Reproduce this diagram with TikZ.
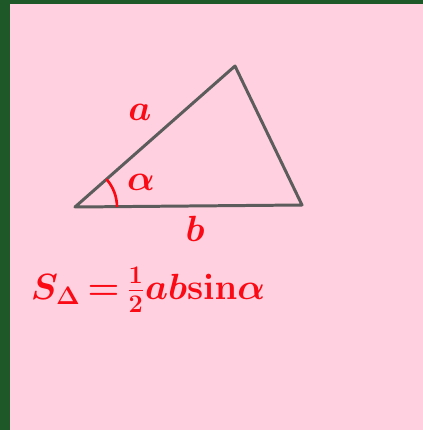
\documentclass[tikz,border=0pt]{standalone}
\usetikzlibrary{positioning, calc}
\definecolor{rozovyi}{RGB}{255,208,223}
\definecolor{zelenyi}{RGB}{30,88,40}
\definecolor{seryi}{RGB}{92,92,92}
\definecolor{krasnyi}{RGB}{250,10,20}

\begin{document}
\begin{tikzpicture}[x=0.02cm, y=-0.02cm, font=\fontsize{20}{24}\selectfont\boldmath]
                \fill[zelenyi] (0,0) rectangle (423,430);
                \fill[rozovyi] (10,4) rectangle (423,430);
                \coordinate (A) at (75,207);
                \coordinate (B) at (235,66);
                \coordinate (C) at (302,205);
                \draw[line width=1.7pt, seryi, line join=round] (A) -- (B) -- (C) -- cycle;
                \draw[line width=1.5pt, krasnyi] ($(A)+(42,0)$) arc[start angle=0, end angle=41.4, radius=0.84cm];
                \node[krasnyi] (sideA) at (140,112) {$a$};
                \node[krasnyi] (ugol) at (141,182) {$\alpha$};
                \node[krasnyi] (sideB) at (195,229) {$b$};
                \node[krasnyi, font=\fontsize{22}{28}\selectfont\boldmath] (formula) at (148,290)
                    {$S_{\Delta}\,{=}\,\frac{1}{2}ab\mathrm{sin}\alpha$};
            \end{tikzpicture}
\end{document}
